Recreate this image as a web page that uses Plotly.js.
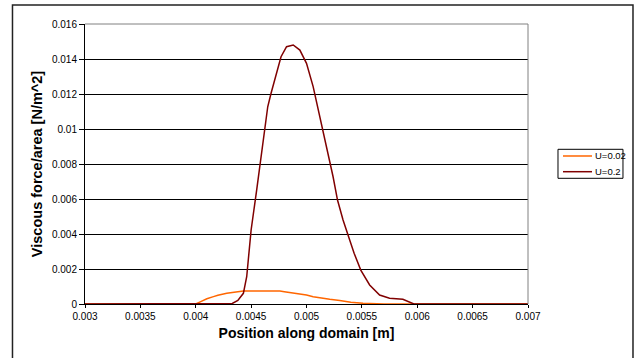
<!DOCTYPE html>
<html>
<head>
<meta charset="utf-8">
<script src="https://cdn.plot.ly/plotly-3.0.1.min.js"></script>
<style>html,body{margin:0;padding:0;background:#fff;}#chart{width:641px;height:358px;}</style>
</head>
<body>
<div id="chart"></div>
<script>
// Series U=0.02
var xU002 = [0.003, 0.004, 0.00405, 0.0041, 0.00416, 0.0042, 0.00428, 0.00435, 0.00443, 0.0045, 0.0046, 0.0047, 0.00476, 0.0048, 0.00491, 0.005, 0.00506, 0.0051, 0.00521, 0.0053, 0.00536, 0.0054, 0.00551, 0.0056, 0.0057, 0.007];
var yU002 = [0, 0, 0.00015, 0.0003, 0.00042, 0.0005, 0.00061, 0.00069, 0.00074, 0.00075, 0.00075, 0.00075, 0.00074, 0.0007, 0.00061, 0.00052, 0.00042, 0.00037, 0.00027, 0.0002, 0.00013, 0.0001, 0.00004, 0.00002, 0, 0];
// Series U=0.2
var xU02 = [0.003, 0.0043, 0.00433, 0.00438, 0.00443, 0.00446, 0.00449, 0.0045, 0.00455, 0.00458, 0.00462, 0.00465, 0.00468, 0.00473, 0.00477, 0.00482, 0.00488, 0.00494, 0.005, 0.00506, 0.0051, 0.00515, 0.00519, 0.00524, 0.00528, 0.00533, 0.00539, 0.00543, 0.00549, 0.00557, 0.00566, 0.00575, 0.00587, 0.00593, 0.00597, 0.007];
var yU02 = [0, 0, 0.00003, 0.0002, 0.00061, 0.00156, 0.00347, 0.00423, 0.00651, 0.00804, 0.00994, 0.01127, 0.01204, 0.01318, 0.01413, 0.0147, 0.0148, 0.01451, 0.01375, 0.01242, 0.01127, 0.00994, 0.00861, 0.00727, 0.00594, 0.0048, 0.00366, 0.0029, 0.00194, 0.00109, 0.00051, 0.00033, 0.00027, 0.00008, 0, 0];
// Tick labels
var xTickVals = [0.003, 0.0035, 0.004, 0.0045, 0.005, 0.0055, 0.006, 0.0065, 0.007];
var xTickText = ["0.003", "0.0035", "0.004", "0.0045", "0.005", "0.0055", "0.006", "0.0065", "0.007"];
var yTickVals = [0, 0.002, 0.004, 0.006, 0.008, 0.01, 0.012, 0.014, 0.016];
var yTickText = ["0", "0.002", "0.004", "0.006", "0.008", "0.01", "0.012", "0.014", "0.016"];
// Legend entries
var seriesNames = ["U=0.02", "U=0.2"];
var seriesColors = ["#FF6600", "#800000"];

var FONT = "'Liberation Sans', Arial, sans-serif";

var traces = [
  {x: xU002, y: yU002, type: 'scatter', mode: 'lines', name: seriesNames[0],
   line: {color: seriesColors[0], width: 1.5}},
  {x: xU02, y: yU02, type: 'scatter', mode: 'lines', name: seriesNames[1],
   line: {color: seriesColors[1], width: 1.5}}
];

// manual legend geometry (paper coords)
var legX0 = 1.0677, legX1 = 1.2144, legY0 = 0.4489, legY1 = 0.5525;
var sampX0 = 1.079, sampX1 = 1.1445, textX = 1.147;
var rowY = [0.5286, 0.4725];

var shapes = [
  {type: 'path', xref: 'paper', yref: 'paper', path: 'M 0 1 L 1 1 L 1 0',
   line: {color: '#808080', width: 1}, layer: 'above'},
  {type: 'rect', xref: 'paper', yref: 'paper', x0: -0.1637, x1: 1.237, y0: -0.22, y1: 1.068,
   line: {color: '#222', width: 1.5}, fillcolor: 'rgba(0,0,0,0)', layer: 'above'},
  {type: 'rect', xref: 'paper', yref: 'paper', x0: legX0, x1: legX1, y0: legY0, y1: legY1,
   line: {color: '#000', width: 1}, fillcolor: '#fff', layer: 'above'}
];
var annotations = [];
for (var i = 0; i < seriesNames.length; i++) {
  shapes.push({type: 'line', xref: 'paper', yref: 'paper', x0: sampX0, x1: sampX1, y0: rowY[i], y1: rowY[i],
               line: {color: seriesColors[i], width: 1.5}, layer: 'above'});
  annotations.push({xref: 'paper', yref: 'paper', x: textX, y: rowY[i], xanchor: 'left', yanchor: 'middle',
                    text: seriesNames[i], showarrow: false,
                    font: {family: FONT, size: 9.5, color: '#000'}});
}

var layout = {
  width: 641, height: 358,
  margin: {l: 85, r: 113, t: 24, b: 54, pad: 0},
  paper_bgcolor: '#fff', plot_bgcolor: '#fff',
  font: {family: FONT, size: 10, color: '#000'},
  showlegend: false,
  xaxis: {range: [0.003, 0.007], tickvals: xTickVals, ticktext: xTickText,
          showgrid: false, zeroline: false, showline: true, linecolor: '#000', linewidth: 1,
          ticks: 'outside', ticklen: 3, tickcolor: '#000',
          tickfont: {family: FONT, size: 10, color: '#000'},
          title: {text: '<b>Position along domain [m]</b>', font: {family: FONT, size: 14, color: '#000'}, standoff: 7}},
  yaxis: {range: [0, 0.016], tickvals: yTickVals, ticktext: yTickText,
          showgrid: true, gridcolor: '#000', gridwidth: 1, zeroline: false,
          showline: true, linecolor: '#000', linewidth: 1,
          ticks: 'outside', ticklen: 5, tickcolor: '#000',
          tickfont: {family: FONT, size: 10, color: '#000'},
          title: {text: '<b>Viscous force/area [N/m^2]</b>', font: {family: FONT, size: 14.5, color: '#000'}, standoff: 5}},
  shapes: shapes,
  annotations: annotations
};

Plotly.newPlot('chart', traces, layout, {displayModeBar: false, staticPlot: true});
</script>
</body>
</html>
